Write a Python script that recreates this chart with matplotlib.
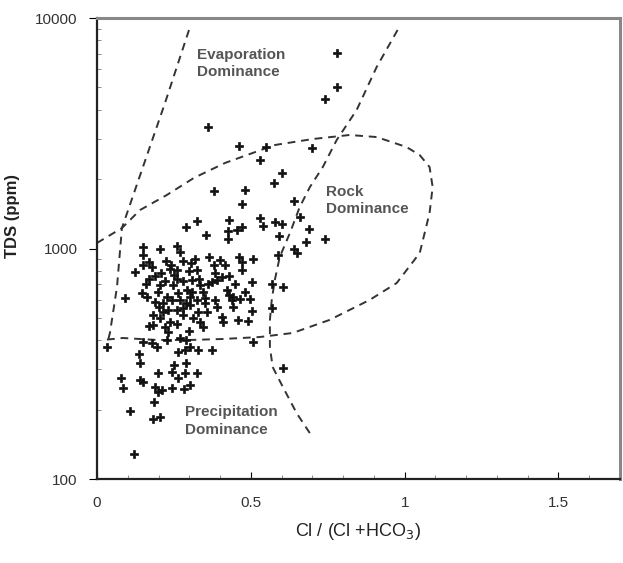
import matplotlib
matplotlib.use('Agg')
import matplotlib.pyplot as plt
from matplotlib.ticker import MultipleLocator, LogLocator, NullFormatter, FixedLocator

plt.rcParams['font.family'] = ['Liberation Sans', 'DejaVu Sans']

# 样本点: Cl/(Cl+HCO3) 与 TDS (ppm)
cl_ratio = [0.78, 0.78, 0.74, 0.36, 0.46, 0.55, 0.53, 0.70, 0.60, 0.575,
            0.38, 0.48, 0.47, 0.64, 0.66, 0.69, 0.74, 0.68, 0.64, 0.65,
            0.59, 0.58, 0.60, 0.53, 0.54, 0.43, 0.425, 0.425, 0.455, 0.47,
            0.29, 0.325, 0.354, 0.15, 0.205, 0.26, 0.27, 0.15, 0.15, 0.123,
            0.17, 0.224, 0.237, 0.26, 0.26, 0.208, 0.305, 0.30, 0.325, 0.364,
            0.40, 0.416, 0.46, 0.47, 0.506, 0.47, 0.383, 0.39, 0.406, 0.503,
            0.568, 0.604, 0.588, 0.422, 0.481, 0.464, 0.497, 0.442, 0.503, 0.406,
            0.458, 0.49, 0.568, 0.506, 0.604, 0.091, 0.146, 0.162, 0.198, 0.227,
            0.188, 0.214, 0.244, 0.263, 0.292, 0.302, 0.325, 0.344, 0.334, 0.43,
            0.214, 0.182, 0.205, 0.182, 0.26, 0.279, 0.302, 0.328, 0.357, 0.279,
            0.312, 0.237, 0.221, 0.231, 0.334, 0.344, 0.409, 0.032, 0.149, 0.179,
            0.195, 0.269, 0.263, 0.286, 0.302, 0.328, 0.373, 0.227, 0.136, 0.14,
            0.198, 0.25, 0.244, 0.29, 0.286, 0.325, 0.263, 0.078, 0.084, 0.14,
            0.149, 0.188, 0.198, 0.211, 0.244, 0.282, 0.302, 0.185, 0.107, 0.182,
            0.205, 0.12, 0.247, 0.205, 0.373, 0.35, 0.383, 0.44, 0.31, 0.17,
            0.29, 0.442, 0.16, 0.19, 0.22, 0.25, 0.28, 0.20, 0.23, 0.27,
            0.29, 0.31, 0.33, 0.36, 0.35, 0.18, 0.24, 0.28, 0.32, 0.38,
            0.43, 0.45, 0.17, 0.26, 0.30, 0.39]
tds = [7050, 5020, 4450, 3370, 2780, 2760, 2420, 2730, 2130, 1920,
       1770, 1790, 1560, 1610, 1370, 1215, 1100, 1067, 995, 956,
       1130, 1300, 1280, 1356, 1252, 1330, 1190, 1100, 1200, 1240,
       1240, 1315, 1144, 1015, 995, 1025, 966, 937, 848, 791,
       738, 883, 815, 807, 738, 783, 865, 799, 807, 919,
       892, 848, 919, 874, 901, 807, 783, 730, 752, 716,
       702, 681, 937, 661, 648, 604, 604, 557, 536, 504,
       490, 485, 552, 393, 303, 610, 641, 616, 648, 616,
       586, 580, 598, 641, 661, 616, 598, 648, 695, 630,
       530, 515, 499, 466, 541, 552, 569, 530, 530, 515,
       499, 480, 456, 434, 480, 456, 480, 374, 393, 389,
       374, 409, 356, 363, 374, 363, 363, 401, 349, 319,
       288, 312, 291, 319, 288, 288, 274, 274, 248, 269,
       264, 251, 238, 243, 248, 246, 256, 216, 197, 182,
       186, 128, 695, 695, 716, 580, 598, 598, 730, 874,
       401, 616, 700, 760, 720, 770, 720, 560, 540, 600,
       580, 650, 740, 700, 610, 830, 850, 880, 900, 850,
       760, 700, 460, 470, 440, 560]

# 分区边界（虚线）
evap_left_x = [0.299, 0.221, 0.081, 0.065, 0.042, 0.032]
evap_left_y = [8870, 4278, 1227, 681, 430, 381]

evap_right_x = [0.977, 0.909, 0.844, 0.779, 0.734, 0.692, 0.659, 0.627, 0.594,
                0.578, 0.568, 0.562, 0.562, 0.571, 0.604, 0.649, 0.692]
evap_right_y = [8870, 6130, 3990, 2955, 2257, 1848, 1514, 1167, 919,
                730, 598, 490, 374, 306, 251, 193, 158]

rock_x = [0.0, 0.081, 0.14, 0.227, 0.315, 0.416, 0.506, 0.578, 0.701, 0.821,
          0.909, 1.006, 1.049, 1.081, 1.091, 1.081, 1.049, 0.974, 0.886, 0.756,
          0.636, 0.529, 0.409, 0.302, 0.195, 0.084, 0.019]
rock_y = [1057, 1227, 1469, 1707, 2024, 2350, 2597, 2812, 2985, 3108,
          3045, 2756, 2543, 2257, 1848, 1426, 956, 708, 598, 490,
          430, 413, 405, 401, 401, 409, 401]

fig = plt.figure(figsize=(6.23, 5.63), dpi=100)
ax = fig.add_axes([0.1557, 0.1492, 0.8395, 0.8188])

dash = dict(color='#333333', lw=1.4, ls=(0, (4, 3)))
ax.plot(evap_left_x, evap_left_y, **dash)
ax.plot(evap_right_x, evap_right_y, **dash)
ax.plot(rock_x, rock_y, **dash)

ax.plot(cl_ratio, tds, ls='none', marker='P', ms=6, color='#111111',
        mec='#111111', mew=0.5)

ax.set_yscale('log')
ax.set_xlim(0, 1.7)
ax.set_ylim(100, 10000)

ax.xaxis.set_major_locator(FixedLocator([0, 0.5, 1, 1.5]))
ax.xaxis.set_minor_locator(MultipleLocator(0.1))
ax.set_xticklabels(['0', '0.5', '1', '1.5'])
ax.yaxis.set_major_locator(FixedLocator([100, 1000, 10000]))
ax.set_yticklabels(['100', '1000', '10000'])
ax.yaxis.set_minor_locator(LogLocator(base=10, subs=range(2, 10)))
ax.yaxis.set_minor_formatter(NullFormatter())

ax.tick_params(axis='x', which='major', direction='in', length=5, pad=12,
               labelsize=11, labelcolor='#333333')
ax.tick_params(axis='x', which='minor', direction='in', length=3, color='#777777')
ax.tick_params(axis='y', which='major', direction='out', length=6, pad=8,
               labelsize=11, labelcolor='#333333')
ax.tick_params(axis='y', which='minor', direction='in', length=3, color='#777777')

for side in ['left', 'bottom']:
    ax.spines[side].set_linewidth(1.6)
    ax.spines[side].set_color('#222222')
for side in ['top', 'right']:
    ax.spines[side].set_linewidth(2.2)
    ax.spines[side].set_color('#888888')

lab = dict(fontsize=11, fontweight='bold', color='#555555', va='top', ha='left',
           linespacing=1.3)
ax.text(0.325, 7400, 'Evaporation\nDominance', **lab)
ax.text(0.745, 1890, 'Rock\nDominance', **lab)
ax.text(0.286, 209, 'Precipitation\nDominance', **lab)

ax.set_xlabel('Cl / (Cl +HCO$_3$)', fontsize=13, color='#222222', labelpad=8)
ax.set_ylabel('TDS (ppm)', fontsize=12, fontweight='bold', color='#222222')
ax.yaxis.set_label_coords(-0.148, 0.57)

fig.savefig('out.png', dpi=100)
